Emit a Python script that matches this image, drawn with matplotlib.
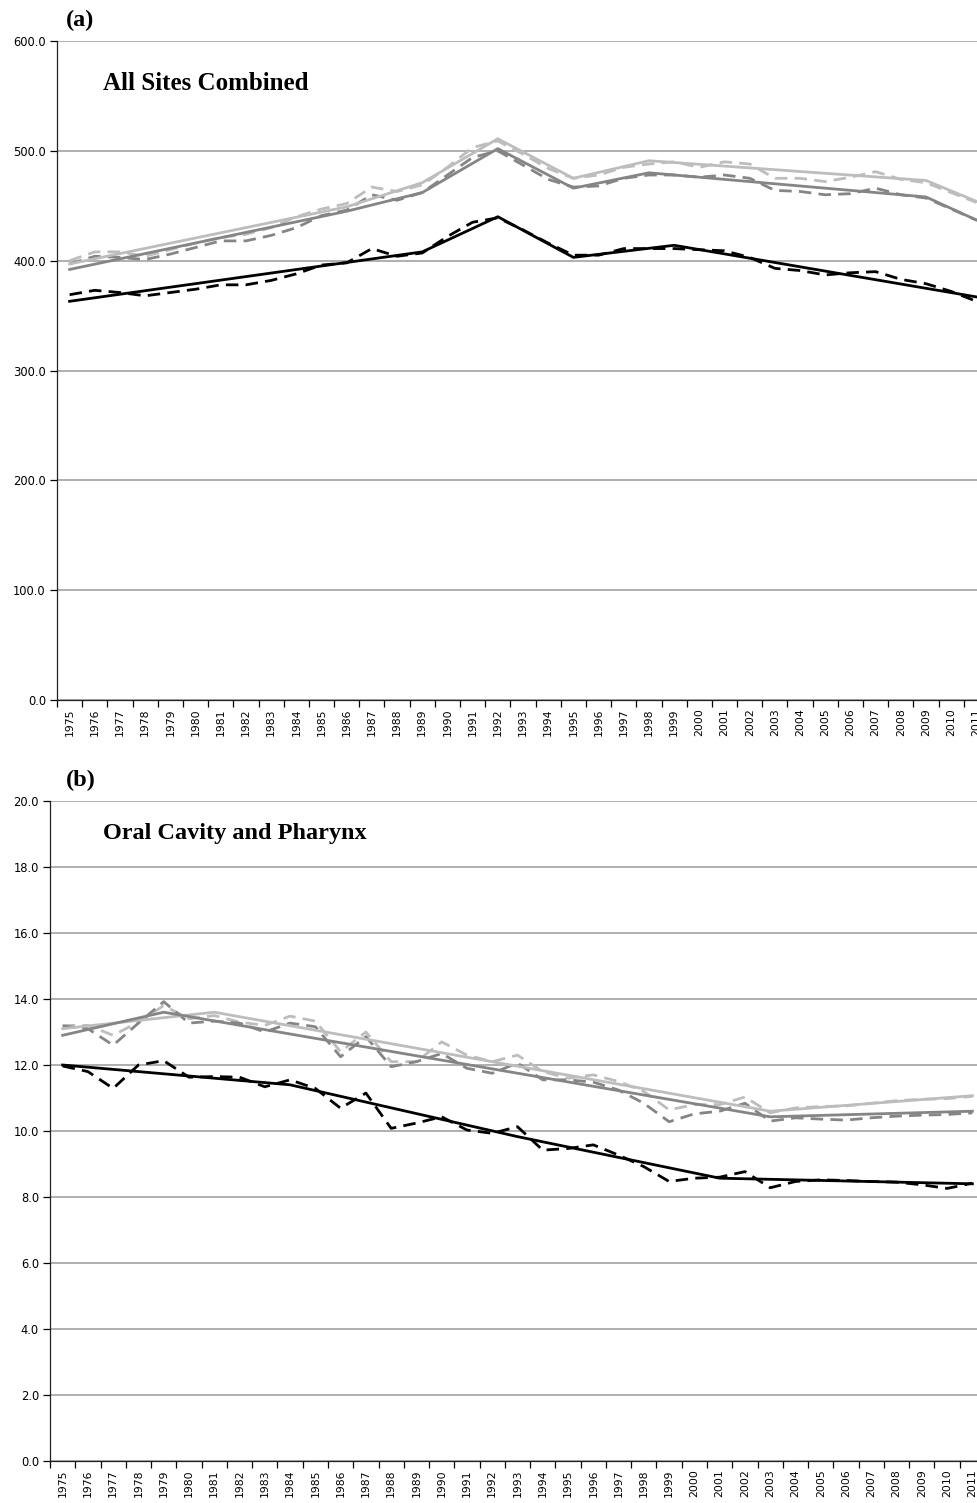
import numpy as np
import matplotlib
matplotlib.use('Agg')
import matplotlib.pyplot as plt
from matplotlib.ticker import FixedLocator, FormatStrFormatter

YEARS = list(range(1975, 2012))

# ---- panel (a): all sites combined ----
A_LIGHT_OBS = [400, 408, 408, 404, 410, 416, 421, 424, 430, 440, 447, 452, 467, 463, 469,
               485, 503, 509, 497, 484, 475, 478, 485, 488, 490, 485, 490, 488, 475, 475,
               472, 476, 481, 474, 471, 462, 453]
A_MED_OBS = [397, 404, 403, 401, 406, 412, 418, 418, 423, 430, 441, 446, 460, 455, 462,
             478, 494, 500, 487, 474, 467, 468, 475, 478, 478, 476, 478, 475, 464, 463,
             460, 461, 466, 460, 457, 447, 437]
A_BLACK_OBS = [369, 373, 371, 368, 371, 374, 378, 378, 382, 388, 396, 398, 411, 404, 407,
               422, 435, 439, 428, 416, 405, 405, 411, 411, 411, 410, 409, 403, 393, 391,
               387, 389, 390, 383, 379, 372, 363]
# joinpoint fits (segment ends)
A_LIGHT_JP_YR = [1975, 1986, 1989, 1992, 1995, 1998, 2009, 2011]
A_LIGHT_JP = [397, 449, 471, 511, 475, 491, 473, 454]
A_MED_JP_YR = [1975, 1986, 1989, 1992, 1995, 1998, 2009, 2011]
A_MED_JP = [392, 445, 462, 502, 466, 480, 458, 437]
A_BLACK_JP_YR = [1975, 1989, 1992, 1995, 1999, 2011]
A_BLACK_JP = [363, 408, 440, 403, 414, 367]

# ---- panel (b): oral cavity and pharynx ----
B_LIGHT_OBS = [13.2, 13.2, 12.9, 13.3, 13.8, 13.4, 13.5, 13.3, 13.2, 13.48, 13.33, 12.4,
               13.0, 12.1, 12.1, 12.7, 12.3, 12.1, 12.3, 11.8, 11.6, 11.7, 11.5, 11.2,
               10.64, 10.8, 10.8, 11.03, 10.55, 10.7, 10.74, 10.76, 10.84, 10.92, 10.96,
               10.98, 11.05]
B_MED_OBS = [13.18, 13.1, 12.6, 13.27, 13.92, 13.27, 13.33, 13.27, 13.0, 13.27, 13.16,
             12.25, 12.86, 11.95, 12.1, 12.35, 11.9, 11.75, 12.06, 11.55, 11.55, 11.48,
             11.24, 10.84, 10.28, 10.52, 10.6, 10.84, 10.3, 10.4, 10.36, 10.33, 10.4,
             10.45, 10.48, 10.5, 10.55]
B_BLACK_OBS = [11.97, 11.8, 11.29, 12.0, 12.13, 11.63, 11.65, 11.63, 11.34, 11.55, 11.29,
               10.69, 11.15, 10.08, 10.24, 10.43, 10.03, 9.93, 10.13, 9.42, 9.47, 9.58,
               9.27, 8.92, 8.47, 8.57, 8.6, 8.77, 8.28, 8.47, 8.52, 8.5, 8.47, 8.45,
               8.37, 8.26, 8.42]
B_LIGHT_JP_YR = [1975, 1981, 2003, 2011]
B_LIGHT_JP = [13.1, 13.6, 10.6, 11.07]
B_MED_JP_YR = [1975, 1979, 2003, 2011]
B_MED_JP = [12.9, 13.6, 10.43, 10.6]
B_BLACK_JP_YR = [1975, 1984, 1993, 2001, 2011]
B_BLACK_JP = [12.0, 11.4, 9.83, 8.57, 8.4]

LIGHT, MED, DARK = '#bdbdbd', '#858585', '#000000'
LW = 2.0
DASH = (0, (4.5, 2.6))


def draw_panel(ax, obs, fits, ymax, ystep):
    for (vals, col), (yr, jp) in zip(obs, fits):
        ax.plot(YEARS, vals, color=col, lw=LW, linestyle=DASH, zorder=2)
        ax.plot(yr, jp, color=col, lw=LW, zorder=3)
    ax.set_xlim(1974.5, 2011.5)
    ax.set_ylim(0, ymax)
    ax.set_yticks(np.arange(0, ymax + ystep / 2, ystep))
    ax.yaxis.set_major_formatter(FormatStrFormatter('%.1f'))
    ax.grid(axis='y', color='#9a9a9a', lw=1.1, zorder=0)
    ax.set_axisbelow(True)
    # category axis: ticks between years, labels centred on years
    ax.xaxis.set_major_locator(FixedLocator(np.arange(1974.5, 2012, 1)))
    ax.xaxis.set_minor_locator(FixedLocator(YEARS))
    ax.set_xticklabels([])
    ax.set_xticklabels([str(y) for y in YEARS], minor=True, rotation=90, fontsize=7.8)
    ax.tick_params(axis='x', which='major', length=5, width=0.9, direction='out')
    ax.tick_params(axis='x', which='minor', length=0, pad=6)
    ax.tick_params(axis='y', length=5, width=0.9, labelsize=8.3, pad=3)
    for s in ('top', 'right'):
        ax.spines[s].set_visible(False)
    for s in ('left', 'bottom'):
        ax.spines[s].set_linewidth(0.9)
        ax.spines[s].set_color('#222222')


fig = plt.figure(figsize=(9.77, 15.03), dpi=100)
W, H = 977.0, 1503.0

ax_a = fig.add_axes([57 / W, (H - 700) / H, 932 / W, 659 / H])
draw_panel(ax_a,
           [(A_LIGHT_OBS, LIGHT), (A_MED_OBS, MED), (A_BLACK_OBS, DARK)],
           [(A_LIGHT_JP_YR, A_LIGHT_JP), (A_MED_JP_YR, A_MED_JP), (A_BLACK_JP_YR, A_BLACK_JP)],
           600, 100)

ax_b = fig.add_axes([50 / W, (H - 1461) / H, 935 / W, 660 / H])
draw_panel(ax_b,
           [(B_LIGHT_OBS, LIGHT), (B_MED_OBS, MED), (B_BLACK_OBS, DARK)],
           [(B_LIGHT_JP_YR, B_LIGHT_JP), (B_MED_JP_YR, B_MED_JP), (B_BLACK_JP_YR, B_BLACK_JP)],
           20, 2)

serif = dict(family='Liberation Serif', fontweight='bold', color='black')
fig.text(66 / W, 1 - 20 / H, '(a)', fontsize=17.5, va='center', ha='left', **serif)
fig.text(103 / W, 1 - 84 / H, 'All Sites Combined', fontsize=18, va='center', ha='left', **serif)
fig.text(66 / W, 1 - 780 / H, '(b)', fontsize=17.5, va='center', ha='left', **serif)
fig.text(103 / W, 1 - 833 / H, 'Oral Cavity and Pharynx', fontsize=17.5, va='center', ha='left', **serif)

fig.savefig('out.png', dpi=100, facecolor='white')
